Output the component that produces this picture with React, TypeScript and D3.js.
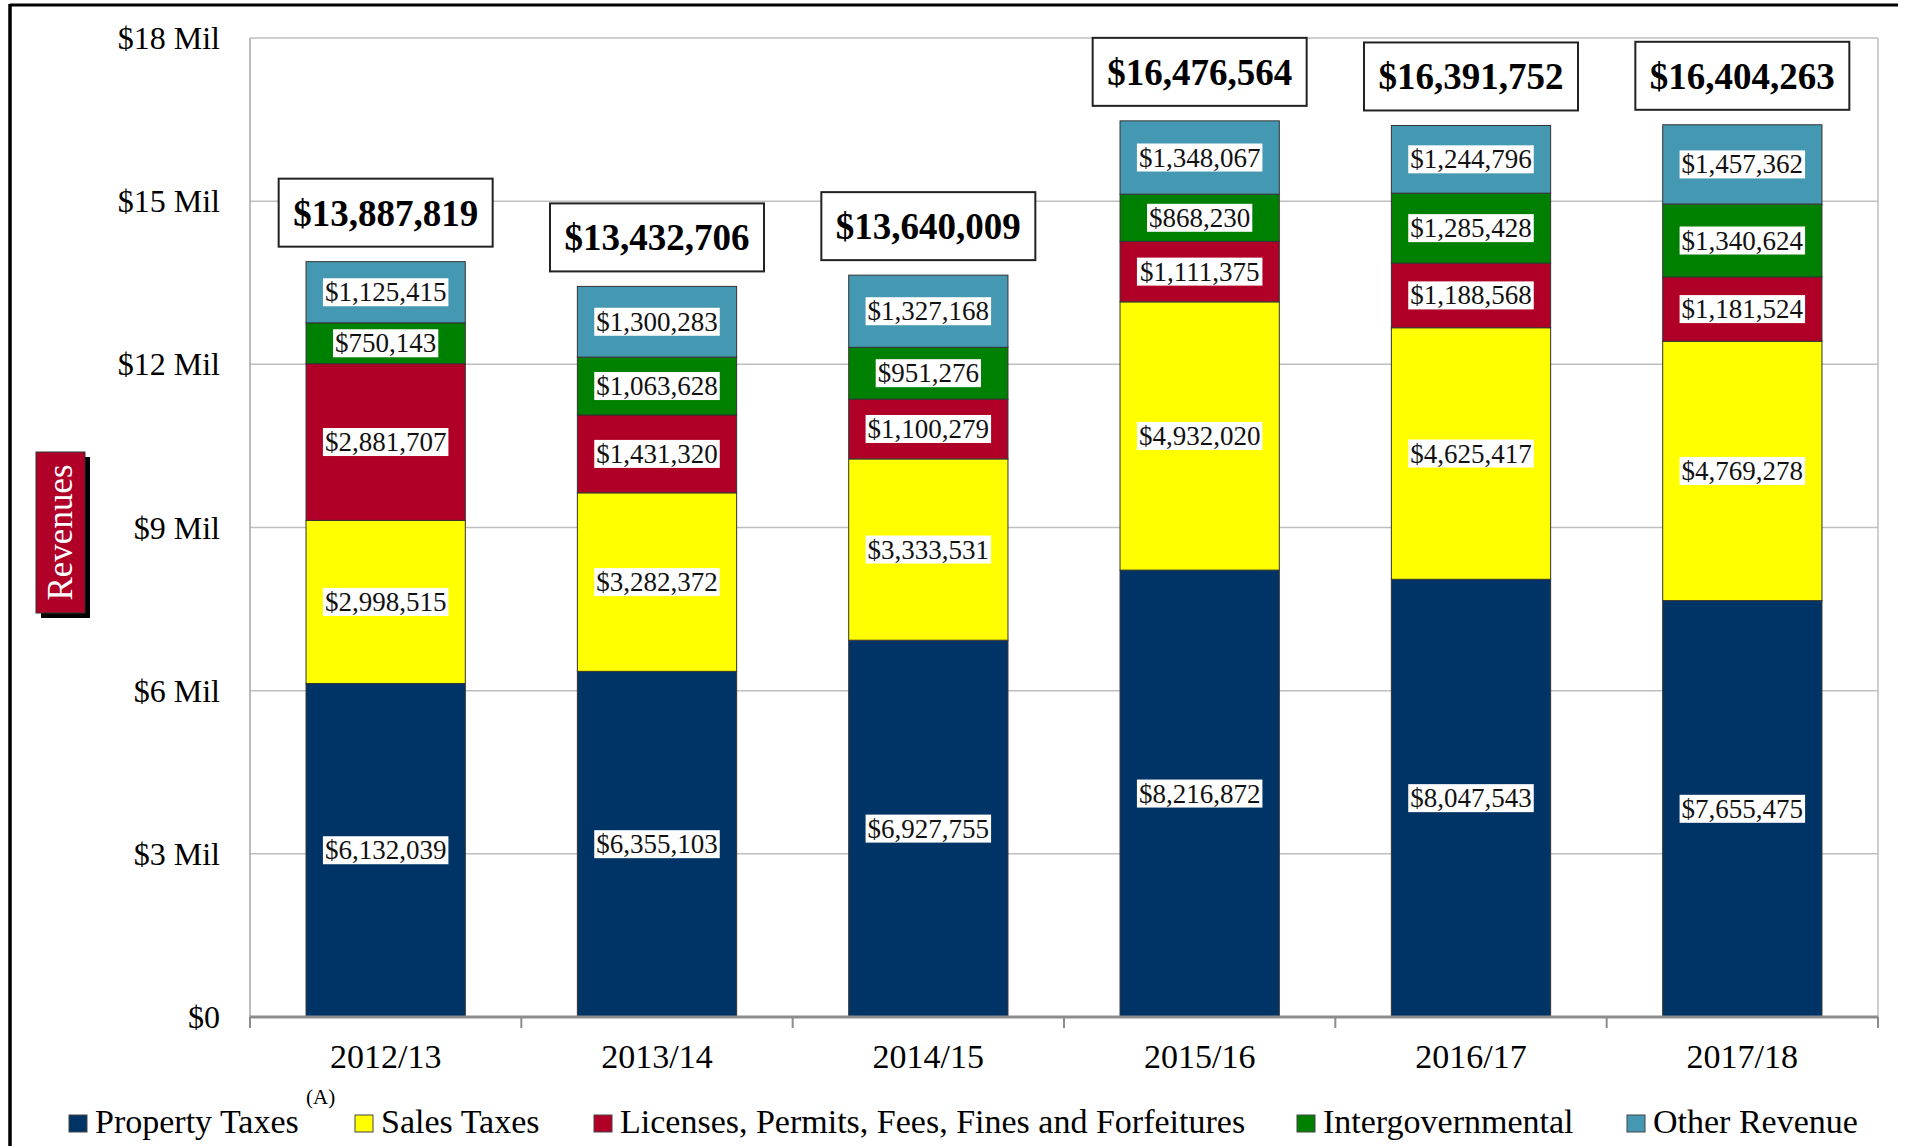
import React from 'react';
import * as d3 from 'd3';

const years = ['2012/13', '2013/14', '2014/15', '2015/16', '2016/17', '2017/18'];
const propertyTaxes = [6132039, 6355103, 6927755, 8216872, 8047543, 7655475];
const salesTaxes = [2998515, 3282372, 3333531, 4932020, 4625417, 4769278];
const licensesFees = [2881707, 1431320, 1100279, 1111375, 1188568, 1181524];
const intergovernmental = [750143, 1063628, 951276, 868230, 1285428, 1340624];
const otherRevenue = [1125415, 1300283, 1327168, 1348067, 1244796, 1457362];

const seriesKeys = ['p', 's', 'l', 'i', 'o'];
const seriesNames = [
  'Property Taxes',
  'Sales Taxes',
  'Licenses, Permits, Fees, Fines and Forfeitures',
  'Intergovernmental',
  'Other Revenue',
];
const seriesColors = ['#003366', '#FFFF00', '#B00028', '#008000', '#4598B1'];

const yTicks = [0, 3e6, 6e6, 9e6, 12e6, 15e6, 18e6];
const yTickLabels = ['$0', '$3 Mil', '$6 Mil', '$9 Mil', '$12 Mil', '$15 Mil', '$18 Mil'];

// layout
const W = 1908;
const H = 1146;
const PL = 250;
const PR = 1878;
const PT = 38;
const PB = 1017;
const FONT = "'Liberation Serif', 'Times New Roman', serif";
const legendX = [69, 355, 594, 1297, 1627];

function labelWidth(s: string, fs: number) {
  let w = 0;
  for (const c of s) w += c === ',' ? 0.25 : 0.5;
  return w * fs;
}

export default function App() {
  const rows = years.map((yr, i) => ({
    year: yr,
    p: propertyTaxes[i],
    s: salesTaxes[i],
    l: licensesFees[i],
    i: intergovernmental[i],
    o: otherRevenue[i],
  }));
  const stacked = d3.stack<any>().keys(seriesKeys)(rows as any);
  const totals = rows.map((r) => d3.sum(seriesKeys, (k) => (r as any)[k]));

  const x = d3
    .scaleBand<string>()
    .domain(years)
    .range([PL, PR])
    .paddingInner(0.413)
    .paddingOuter(0.2065);
  const y = d3.scaleLinear().domain([0, 18e6]).range([PB, PT]);
  const fmt = d3.format('$,.0f');
  const bw = x.bandwidth();
  const gap = (x.step() - bw) / 2;
  const boundaries = years.map((yr) => (x(yr) as number) - gap).concat([PR]);

  const dataFs = 27;
  const totalFs = 37;

  return (
    <svg
      width={W}
      height={H}
      style={{ position: 'absolute', left: 0, top: 0, display: 'block', background: '#fff' }}
      fontFamily={FONT}
    >
      <rect x={0} y={0} width={W} height={H} fill="#fff" />
      {/* outer frame */}
      <line x1={10} y1={5} x2={1898} y2={5} stroke="#000" strokeWidth={3} />
      <line x1={10} y1={4} x2={10} y2={H} stroke="#000" strokeWidth={3.5} />

      {/* gridlines */}
      {yTicks.map((t) => (
        <line key={t} x1={PL} x2={PR} y1={y(t)} y2={y(t)} stroke="#BFBFBF" strokeWidth={1.5} />
      ))}
      <line x1={PR} x2={PR} y1={PT} y2={PB} stroke="#BFBFBF" strokeWidth={1.5} />
      <line x1={PL} x2={PL} y1={PT} y2={PB} stroke="#A6A6A6" strokeWidth={1.5} />

      {/* y labels */}
      {yTicks.map((t, i) => (
        <text key={t} x={220} y={y(t) + 11} textAnchor="end" fontSize={32} fill="#000">
          {yTickLabels[i]}
        </text>
      ))}

      {/* bars */}
      {stacked.map((layer, si) => (
        <g key={seriesKeys[si]}>
          {layer.map((d, i) => (
            <rect
              key={i}
              x={x(years[i])}
              y={y(d[1])}
              width={bw}
              height={y(d[0]) - y(d[1])}
              fill={seriesColors[si]}
              stroke="#333"
              strokeWidth={1}
            />
          ))}
        </g>
      ))}

      {/* data labels */}
      {stacked.map((layer, si) => (
        <g key={'lab' + si}>
          {layer.map((d, i) => {
            const v = d[1] - d[0];
            const s = fmt(v);
            const cx = (x(years[i]) as number) + bw / 2;
            const cy = (y(d[0]) + y(d[1])) / 2;
            const w = labelWidth(s, dataFs) + 4;
            return (
              <g key={i}>
                <rect x={cx - w / 2} y={cy - 14} width={w} height={28} fill="#fff" />
                <text x={cx} y={cy + 9} textAnchor="middle" fontSize={dataFs} fill="#111">
                  {s}
                </text>
              </g>
            );
          })}
        </g>
      ))}

      {/* totals */}
      {totals.map((t, i) => {
        const cx = (x(years[i]) as number) + bw / 2;
        const bottom = y(t) - 15;
        const bwid = 214;
        const bh = 68;
        return (
          <g key={'tot' + i}>
            <rect
              x={cx - bwid / 2}
              y={bottom - bh}
              width={bwid}
              height={bh}
              fill="#fff"
              stroke="#222"
              strokeWidth={2}
            />
            <text
              x={cx}
              y={bottom - bh / 2 + 13}
              textAnchor="middle"
              fontSize={totalFs}
              fontWeight="bold"
              fill="#000"
            >
              {fmt(t)}
            </text>
          </g>
        );
      })}

      {/* x axis */}
      <line x1={PL} x2={PR} y1={PB} y2={PB} stroke="#8C8C8C" strokeWidth={3} />
      {boundaries.map((bx, i) => (
        <line key={i} x1={bx} x2={bx} y1={PB} y2={PB + 11} stroke="#8C8C8C" strokeWidth={2} />
      ))}
      {years.map((yr) => (
        <text
          key={yr}
          x={(x(yr) as number) + bw / 2}
          y={1068}
          textAnchor="middle"
          fontSize={34}
          fill="#000"
        >
          {yr}
        </text>
      ))}

      {/* y axis title */}
      <rect x={41} y={457} width={49} height={161} fill="#000" />
      <rect x={36} y={452} width={49} height={161} fill="#B00028" stroke="#333" strokeWidth={1} />
      <text
        transform="translate(72,532.5) rotate(-90)"
        textAnchor="middle"
        fontSize={35}
        fill="#fff"
      >
        Revenues
      </text>

      {/* legend */}
      {seriesNames.map((n, i) => (
        <g key={n}>
          <rect
            x={legendX[i]}
            y={1115}
            width={18}
            height={17}
            fill={seriesColors[i]}
            stroke="#444"
            strokeWidth={1}
          />
          <text x={legendX[i] + 26} y={1133} fontSize={34} fill="#000">
            {n}
          </text>
        </g>
      ))}
      <text x={306} y={1104} fontSize={21} fill="#000">
        (A)
      </text>
    </svg>
  );
}
